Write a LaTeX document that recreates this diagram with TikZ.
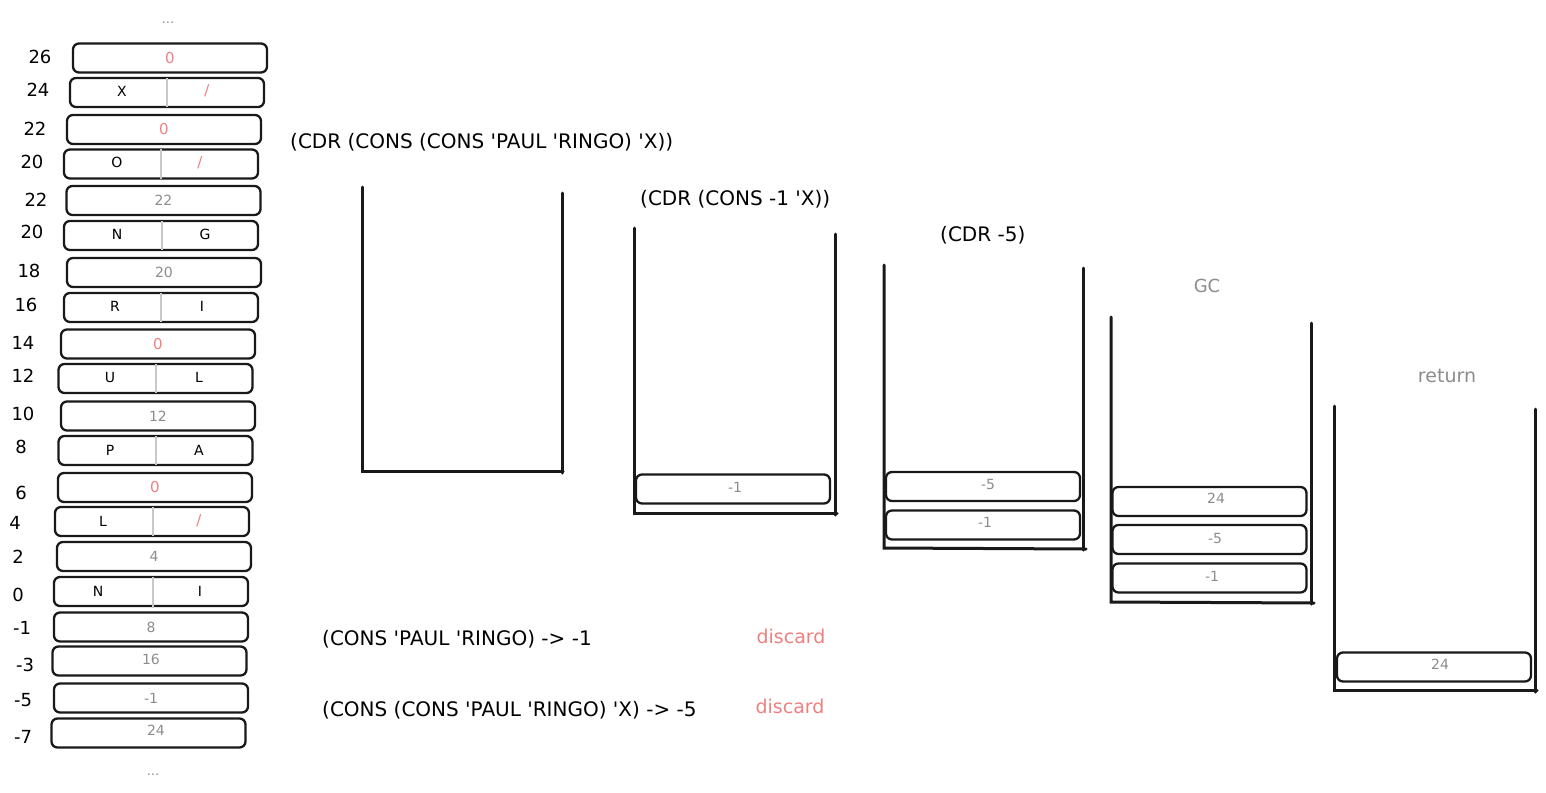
\documentclass[tikz,border=0pt]{standalone}
\usepackage{fontspec}
\setmainfont{DejaVu Sans}
\newcommand{\sq}{\textquotesingle}
\definecolor{redc}{RGB}{238,128,128}
\definecolor{greyc}{RGB}{140,140,140}
\definecolor{divc}{RGB}{200,200,200}
\begin{document}
\begin{tikzpicture}[x=1pt,y=-1pt,
  cell/.style={draw=black!90, rounded corners=6pt, line width=2.3pt, minimum width=194pt, minimum height=29pt, inner sep=0pt},
  celltxt/.style={inner sep=0pt, font=\fontsize{14}{14}\selectfont},
  redtxt/.style={celltxt, text=redc, font=\fontsize{15}{15}\selectfont},
  greytxt/.style={celltxt, text=greyc},
  addr/.style={inner sep=0pt, font=\fontsize{18}{18}\selectfont},
  title/.style={inner sep=0pt, anchor=west, font=\fontsize{20}{20}\selectfont},
  note/.style={inner sep=0pt, font=\fontsize{19}{19}\selectfont},
  wall/.style={line width=3pt, black!90, line cap=round},
  divider/.style={draw=divc, line width=2pt},
  dots/.style={inner sep=0pt, text=greyc, font=\fontsize{13}{13}\selectfont}]
\useasboundingbox (0,0) rectangle (1546,792);

% ---------- memory column ----------
\node[dots] (dtop) at (168,23) {...};
\node[dots] (dbot) at (153,775) {...};

\node[cell] (c26) at (170,58) {};
\node[redtxt] (t26) at (c26) {0};
\node[addr] (a26) at (40,57) {26};

\node[cell] (c24) at (167,92.5) {};
\draw[divider] (167,78) -- (167,107);
\node[celltxt] (t24l) at (122,91) {X};
\node[redtxt] (t24r) at (207,91) {/};
\node[addr] (a24) at (38,90) {24};

\node[cell] (c22a) at (164,129.5) {};
\node[redtxt] (t22a) at (c22a) {0};
\node[addr] (a22a) at (35,129) {22};

\node[cell] (c20a) at (161,164) {};
\draw[divider] (161,149) -- (161,179);
\node[celltxt] (t20al) at (117,162) {O};
\node[redtxt] (t20ar) at (200,163) {/};
\node[addr] (a20a) at (32,162) {20};

\node[cell] (c22b) at (163.5,200.5) {};
\node[greytxt] (t22b) at (c22b) {22};
\node[addr] (a22b) at (36,200) {22};

\node[cell] (c20b) at (161,235.5) {};
\draw[divider] (162,221) -- (162,250);
\node[celltxt] (t20bl) at (117,234) {N};
\node[celltxt] (t20br) at (205,234) {G};
\node[addr] (a20b) at (32,232) {20};

\node[cell] (c18) at (164,272.5) {};
\node[greytxt] (t18) at (c18) {20};
\node[addr] (a18) at (29,271) {18};

\node[cell] (c16) at (161,307.5) {};
\draw[divider] (161,293) -- (161,322);
\node[celltxt] (t16l) at (115,306) {R};
\node[celltxt] (t16r) at (202,306) {I};
\node[addr] (a16) at (26,305) {16};

\node[cell] (c14) at (158,344) {};
\node[redtxt] (t14) at (c14) {0};
\node[addr] (a14) at (23,343) {14};

\node[cell] (c12) at (155.5,378.5) {};
\draw[divider] (156,364) -- (156,393);
\node[celltxt] (t12l) at (110,377) {U};
\node[celltxt] (t12r) at (199,377) {L};
\node[addr] (a12) at (23,376) {12};

\node[cell] (c10) at (158,416) {};
\node[greytxt] (t10) at (c10) {12};
\node[addr] (a10) at (23,414) {10};

\node[cell] (c8) at (155.5,450.5) {};
\draw[divider] (156,436) -- (156,465);
\node[celltxt] (t8l) at (110,450) {P};
\node[celltxt] (t8r) at (199,450) {A};
\node[addr] (a8) at (21,447) {8};

\node[cell] (c6) at (155,487.5) {};
\node[redtxt] (t6) at (c6) {0};
\node[addr] (a6) at (21,493) {6};

\node[cell] (c4) at (152,521.5) {};
\draw[divider] (153,507) -- (153,536);
\node[celltxt] (t4l) at (103,521) {L};
\node[redtxt] (t4r) at (199,521) {/};
\node[addr] (a4) at (15,523) {4};

\node[cell] (c2) at (154,556.5) {};
\node[greytxt] (t2) at (c2) {4};
\node[addr] (a2) at (18,557) {2};

\node[cell] (c0) at (151,591.5) {};
\draw[divider] (153,577) -- (153,608);
\node[celltxt] (t0l) at (98,591) {N};
\node[celltxt] (t0r) at (200,591) {I};
\node[addr] (a0) at (18,595) {0};

\node[cell] (cm1) at (151,627) {};
\node[greytxt] (tm1) at (cm1) {8};
\node[addr] (am1) at (22,628) {-1};

\node[cell] (cm3) at (149.5,661) {};
\node[greytxt] (tm3) at (151,659) {16};
\node[addr] (am3) at (25,665) {-3};

\node[cell] (cm5) at (151,698) {};
\node[greytxt] (tm5) at (cm5) {-1};
\node[addr] (am5) at (23,700) {-5};

\node[cell] (cm7) at (148.5,733) {};
\node[greytxt] (tm7) at (156,730) {24};
\node[addr] (am7) at (23,737) {-7};

% ---------- stack 1 ----------
\node[title] (s1t) at (290,142) {(CDR (CONS (CONS \sq PAUL \sq RINGO) \sq X))};
\draw[wall] (362,187) -- (362,471) -- (563,471);
\draw[wall] (562,193) -- (562,473);

% ---------- stack 2 ----------
\node[title] (s2t) at (640,199) {(CDR (CONS -1 \sq X))};
\draw[wall] (634,228) -- (634,513) -- (837,513);
\draw[wall] (835,234) -- (835,515);
\node[cell] (s2a) at (733,489) {};
\node[greytxt] (s2at) at (735,487) {-1};

% ---------- stack 3 ----------
\node[title] (s3t) at (940,235) {(CDR -5)};
\draw[wall] (884,265) -- (884,548) -- (1086,549);
\draw[wall] (1083,268) -- (1083,550);
\node[cell] (s3a) at (983,486.5) {};
\node[greytxt] (s3at) at (988,484) {-5};
\node[cell] (s3b) at (983,525) {};
\node[greytxt] (s3bt) at (985,522) {-1};

% ---------- stack 4 ----------
\node[note, text=greyc, font=\fontsize{18}{18}\selectfont] (gc) at (1207,286) {GC};
\draw[wall] (1111,317) -- (1111,602) -- (1314,603);
\draw[wall] (1311,323) -- (1311,604);
\node[cell] (s4a) at (1209.5,501.5) {};
\node[greytxt] (s4at) at (1216,498) {24};
\node[cell] (s4b) at (1209.5,539.5) {};
\node[greytxt] (s4bt) at (1215,538) {-5};
\node[cell] (s4c) at (1209.5,578) {};
\node[greytxt] (s4ct) at (1212,576) {-1};

% ---------- stack 5 ----------
\node[note, text=greyc] (ret) at (1447,376) {return};
\draw[wall] (1334,406) -- (1334,690) -- (1537,690);
\draw[wall] (1535,409) -- (1535,692);
\node[cell] (s5a) at (1434,667) {};
\node[greytxt] (s5at) at (1440,664) {24};

% ---------- notes ----------
\node[title] (n1) at (322,639) {(CONS \sq PAUL \sq RINGO) -> -1};
\node[note, text=redc] (d1) at (791,636) {discard};
\node[title] (n2) at (322,710) {(CONS (CONS \sq PAUL \sq RINGO) \sq X) -> -5};
\node[note, text=redc] (d2) at (790,706) {discard};
\end{tikzpicture}
\end{document}
